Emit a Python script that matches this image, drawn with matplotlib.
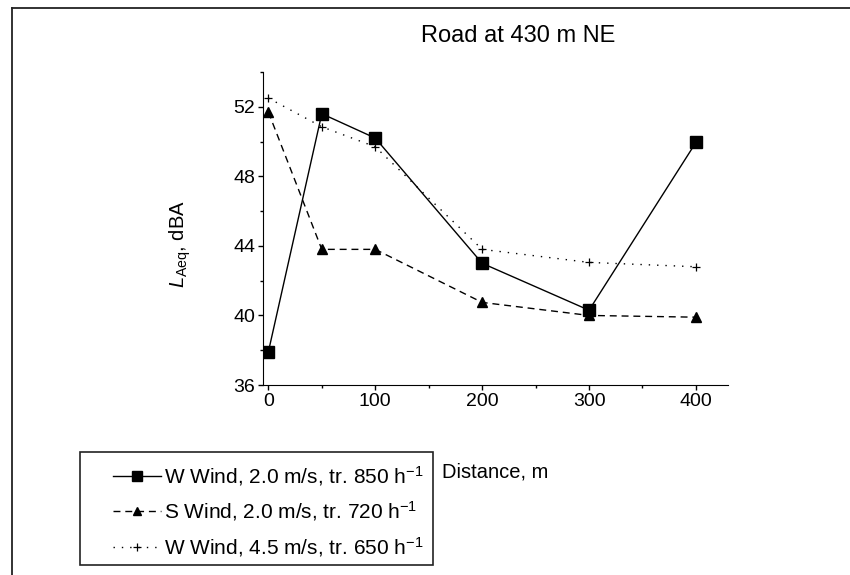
import matplotlib
matplotlib.use("Agg")
import matplotlib.pyplot as plt
from matplotlib.lines import Line2D
from matplotlib.patches import Rectangle
from matplotlib.ticker import MultipleLocator

plt.rcParams['font.family'] = ['Liberation Sans', 'DejaVu Sans']
plt.rcParams['mathtext.fontset'] = 'custom'
plt.rcParams['mathtext.rm'] = 'Liberation Sans'
plt.rcParams['mathtext.it'] = 'Liberation Sans:italic'

# distance from road (m)
distance = [0, 50, 100, 200, 300, 400]

# L_Aeq values (dBA)
w_wind_20 = [37.9, 51.6, 50.2, 43.0, 40.3, 49.95]
s_wind_20 = [51.7, 43.8, 43.8, 40.75, 40.0, 39.9]
w_wind_45 = [52.5, 50.85, 49.7, 43.8, 43.05, 42.8]

labels = [
    r'W Wind, 2.0 m/s, tr. 850 h$^{\mathregular{-1}}$',
    r'S Wind, 2.0 m/s, tr. 720 h$^{\mathregular{-1}}$',
    r'W Wind, 4.5 m/s, tr. 650 h$^{\mathregular{-1}}$',
]

W, H = 850, 575
fig = plt.figure(figsize=(W / 100, H / 100), dpi=100)
ax = fig.add_axes([263 / W, 1 - 385 / H, (728 - 263) / W, (385 - 72) / H])

ax.plot(distance, w_wind_20, color='black', lw=1.0, marker='s', ms=8,
        label=labels[0])
ax.plot(distance, s_wind_20, color='black', lw=1.0, marker='^', ms=7,
        dashes=(5, 3.5), label=labels[1])
ax.plot(distance, w_wind_45, color='black', lw=1.0, marker='+', ms=6,
        mew=0.9, dashes=(1, 5), label=labels[2])

ax.set_xlim(-5, 430)
ax.set_ylim(36, 54)
ax.xaxis.set_major_locator(MultipleLocator(100))
ax.xaxis.set_minor_locator(MultipleLocator(50))
ax.yaxis.set_major_locator(MultipleLocator(4))
ax.yaxis.set_minor_locator(MultipleLocator(2))
ax.tick_params(which='major', direction='out', length=3.5, width=1,
               labelsize=14, pad=2)
ax.tick_params(which='minor', direction='out', length=2, width=1)

ax.spines['top'].set_visible(False)
ax.spines['right'].set_visible(False)

ax.set_xlabel('Distance, m', fontsize=14.5, labelpad=38)
ax.set_ylabel(r'$\mathit{L}_{\mathregular{Aeq}}$, dBA', fontsize=14.5)
ax.yaxis.set_label_coords(-0.15, 0.45)

fig.text(518 / W, 1 - 36 / H, 'Road at 430 m NE', fontsize=17,
         ha='center', va='center')

# legend entries without frame, box drawn separately
fig.legend(loc='upper left', bbox_to_anchor=(113 / W, 1 - 464 / H),
           borderaxespad=0, borderpad=0, fontsize=15, handlelength=2.3,
           handletextpad=0.15, labelspacing=0.55, frameon=False,
           markerscale=0.85)
fig.add_artist(Rectangle((80 / W, 1 - 565 / H), (433 - 80) / W,
                         (565 - 452) / H, transform=fig.transFigure,
                         fill=False, edgecolor='#222222', lw=1.2))

# outer frame (only left and top edges visible in the crop)
fig.add_artist(Line2D([12 / W, 12 / W], [0, 1 - 8 / H], color='#222222',
                      lw=1.3, transform=fig.transFigure))
fig.add_artist(Line2D([12 / W, 1], [1 - 8 / H, 1 - 8 / H], color='#222222',
                      lw=1.3, transform=fig.transFigure))

fig.savefig('out.png', dpi=100)
